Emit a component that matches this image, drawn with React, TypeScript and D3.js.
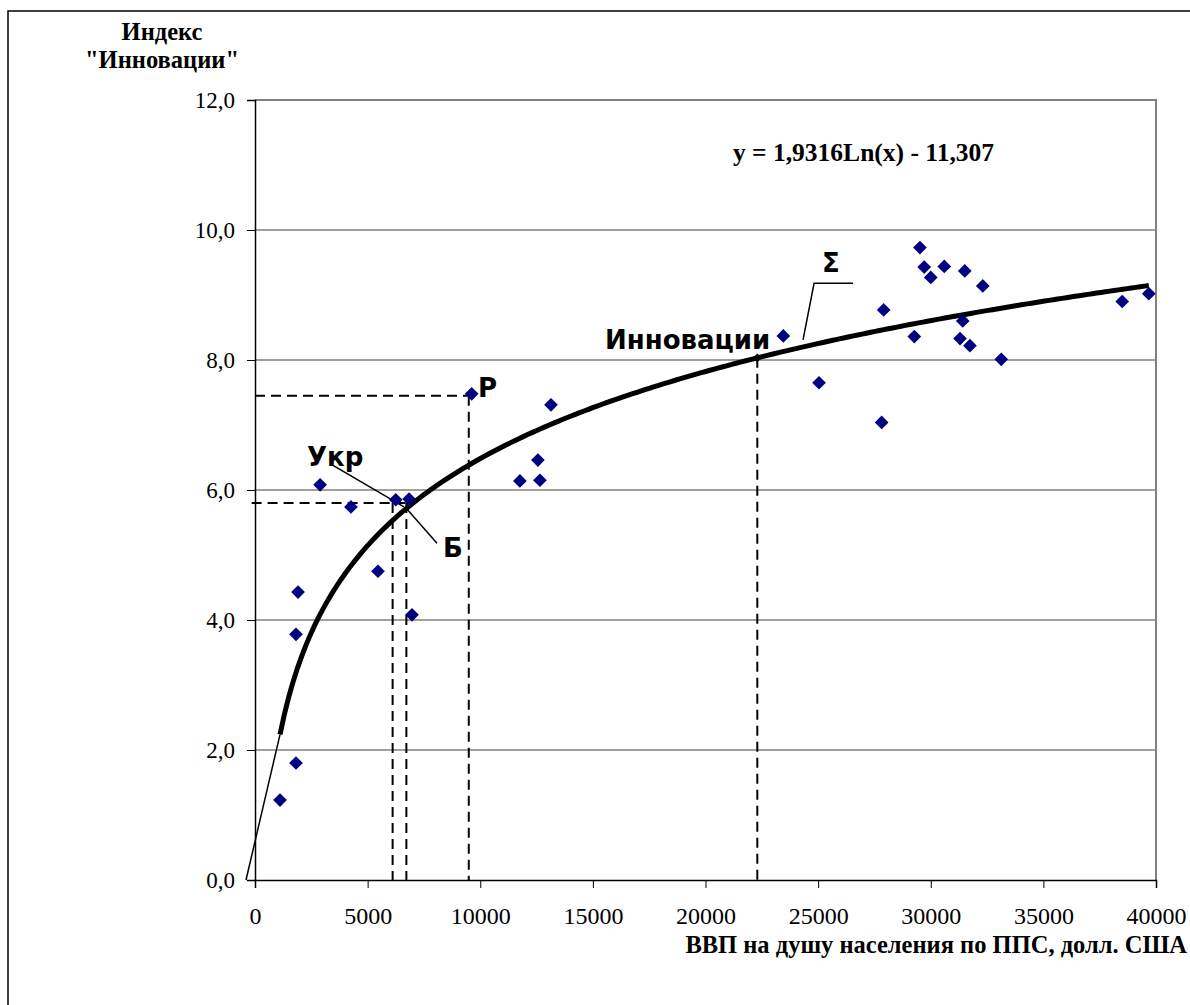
import { useEffect, useRef } from 'react';
import * as d3 from 'd3';

// GDP per capita (PPP, USD) vs "Innovation" index
const gdp = [
  1110, 1820, 1820, 1910, 2890, 4260, 5460, 6250, 6840, 6970,
  9620, 11760, 12560, 12650, 13140, 23455, 25040, 27910, 27820, 29270,
  29520, 29710, 30000, 30600, 31510, 31420, 31300, 31740, 32310, 33130,
  38500, 39680,
];
const innov = [
  1.23, 1.8, 3.78, 4.43, 6.08, 5.74, 4.75, 5.85, 5.86, 4.08,
  7.48, 6.14, 6.46, 6.15, 7.31, 8.37, 7.65, 8.77, 7.04, 8.36,
  9.73, 9.43, 9.27, 9.44, 9.37, 8.6, 8.33, 8.22, 9.14, 8.01,
  8.9, 9.02,
];

const xTicks = [0, 5000, 10000, 15000, 20000, 25000, 30000, 35000, 40000];
const yTicks = [0, 2, 4, 6, 8, 10, 12];

// trendline y = a ln(x) + b
const trendA = 1.9316;
const trendB = -11.307;
const trendFrom = 1110;
const trendTo = 39680;
const innovX = 22300;

// dashed guides [x1, y1, x2, y2] in data units
const guides = [
  [0, 7.45, 9490, 7.45],
  [9490, 7.45, 9490, 0],
  [-150, 5.8, 6720, 5.8],
  [6110, 5.8, 6110, 0],
  [6720, 5.8, 6720, 0],
];

// leader lines, polylines in data units
const leaders = [
  [[3463, 6.38], [6615, 5.74]],
  [[6660, 5.74], [8080, 5.18]],
  [[26550, 9.18], [24820, 9.18], [24330, 8.31]],
];

// point labels [text, x, y]
const labels: [string, number, number][] = [
  ['Р', 9900, 7.43],
  ['Укр', 2310, 6.37],
  ['Б', 8350, 4.97],
  ['Σ', 25170, 9.35],
  ['Инновации', 15540, 8.17],
];

const W = 1190;
const H = 1005;
const SERIF = '"Liberation Serif", "Times New Roman", serif';
const SANS = '"DejaVu Sans", Verdana, sans-serif';

export default function App() {
  const svgRef = useRef<SVGSVGElement>(null);

  useEffect(() => {
    const svg = d3.select(svgRef.current);
    svg.selectAll('*').remove();

    const x = d3.scaleLinear().domain([0, 40000]).range([255, 1156]);
    const y = d3.scaleLinear().domain([0, 12]).range([880, 100]);

    // outer frame
    svg.append('rect')
      .attr('x', 8).attr('y', 11)
      .attr('width', W + 20).attr('height', H + 20)
      .attr('fill', 'none').attr('stroke', '#000').attr('stroke-width', 1.5);

    // gridlines
    svg.append('g').selectAll('line')
      .data(yTicks.filter(t => t > 0 && t < 12))
      .enter().append('line')
      .attr('x1', x(0)).attr('x2', x(40000))
      .attr('y1', d => y(d)).attr('y2', d => y(d))
      .attr('stroke', '#808080').attr('stroke-width', 1.3);

    // plot border (top, right)
    svg.append('path')
      .attr('d', `M${x(0)},${y(12)}H${x(40000)}V${y(0)}`)
      .attr('fill', 'none').attr('stroke', '#808080').attr('stroke-width', 2);

    // axes
    const yAxis = d3.axisLeft(y).tickValues(yTicks).tickSize(8)
      .tickFormat(d => d3.format('.1f')(d as number).replace('.', ','));
    const gy = svg.append('g').attr('transform', `translate(${x(0)},0)`).call(yAxis);
    gy.select('.domain').attr('stroke', '#000').attr('stroke-width', 1.5);
    gy.selectAll('text').attr('font-family', SERIF).attr('font-size', 23)
      .attr('fill', '#000').attr('x', -20).attr('dy', '0.32em');

    const xAxis = d3.axisBottom(x).tickValues(xTicks).tickSize(8)
      .tickFormat(d => String(d));
    const gx = svg.append('g').attr('transform', `translate(0,${y(0)})`).call(xAxis);
    gx.select('.domain').attr('stroke', '#000').attr('stroke-width', 1.5);
    gx.selectAll('text').attr('font-family', SERIF).attr('font-size', 24)
      .attr('fill', '#000').attr('y', 44).attr('dy', 0);

    // dashed guides
    svg.append('g').selectAll('line')
      .data(guides).enter().append('line')
      .attr('x1', d => x(d[0])).attr('y1', d => y(d[1]))
      .attr('x2', d => x(d[2])).attr('y2', d => y(d[3]))
      .attr('stroke', '#000').attr('stroke-width', 2)
      .attr('stroke-dasharray', '10,6');
    svg.append('line')
      .attr('x1', x(innovX)).attr('x2', x(innovX))
      .attr('y1', y(trendA * Math.log(innovX) + trendB)).attr('y2', y(0))
      .attr('stroke', '#000').attr('stroke-width', 2)
      .attr('stroke-dasharray', '10,6');

    // thin extension of trend toward origin
    svg.append('line')
      .attr('x1', x(trendFrom)).attr('y1', y(trendA * Math.log(trendFrom) + trendB))
      .attr('x2', x(-400)).attr('y2', y(0))
      .attr('stroke', '#000').attr('stroke-width', 1.5);

    // trend curve
    const xs = d3.range(0, 201).map(i => trendFrom + (trendTo - trendFrom) * i / 200);
    svg.append('path')
      .datum(xs)
      .attr('d', d3.line<number>()
        .x(d => x(d))
        .y(d => y(trendA * Math.log(d) + trendB)))
      .attr('fill', 'none').attr('stroke', '#000').attr('stroke-width', 5);

    // leaders
    svg.append('g').selectAll('path')
      .data(leaders).enter().append('path')
      .attr('d', d => d3.line<number[]>().x(p => x(p[0])).y(p => y(p[1]))(d))
      .attr('fill', 'none').attr('stroke', '#000').attr('stroke-width', 1.5);

    // data points
    const diamond = d3.symbol().type(d3.symbolDiamond2).size(120);
    svg.append('g').selectAll('path')
      .data(gdp.map((g, i) => [g, innov[i]]))
      .enter().append('path')
      .attr('d', diamond)
      .attr('transform', d => `translate(${x(d[0])},${y(d[1])})`)
      .attr('fill', '#000080');

    // innovation point on curve
    svg.append('path')
      .attr('d', d3.symbol().type(d3.symbolDiamond2).size(50))
      .attr('transform', `translate(${x(innovX)},${y(trendA * Math.log(innovX) + trendB)})`)
      .attr('fill', '#000');

    // labels
    svg.append('g').selectAll('text')
      .data(labels).enter().append('text')
      .attr('x', d => x(d[1])).attr('y', d => y(d[2]))
      .text(d => d[0])
      .attr('font-family', SANS).attr('font-weight', 'bold').attr('font-size', 26)
      .attr('fill', '#000');

    // equation
    svg.append('text')
      .attr('x', x(21220)).attr('y', y(11.06))
      .text('y = 1,9316Ln(x) - 11,307')
      .attr('font-family', SERIF).attr('font-weight', 'bold').attr('font-size', 25.5);

    // axis titles
    svg.append('text')
      .attr('x', 162).attr('y', 40).attr('text-anchor', 'middle')
      .text('Индекс')
      .attr('font-family', SERIF).attr('font-weight', 'bold').attr('font-size', 24.5);
    svg.append('text')
      .attr('x', 162).attr('y', 68).attr('text-anchor', 'middle')
      .text('"Инновации"')
      .attr('font-family', SERIF).attr('font-weight', 'bold').attr('font-size', 24.5);
    svg.append('text')
      .attr('x', 1187).attr('y', 953).attr('text-anchor', 'end')
      .text('ВВП на душу населения по ППС, долл. США')
      .attr('font-family', SERIF).attr('font-weight', 'bold').attr('font-size', 24.5);
  }, []);

  return (
    <div style={{ position: 'absolute', left: 0, top: 0, width: W, height: H, overflow: 'hidden', background: '#fff' }}>
      <svg ref={svgRef} width={W} height={H} style={{ display: 'block' }} />
    </div>
  );
}
